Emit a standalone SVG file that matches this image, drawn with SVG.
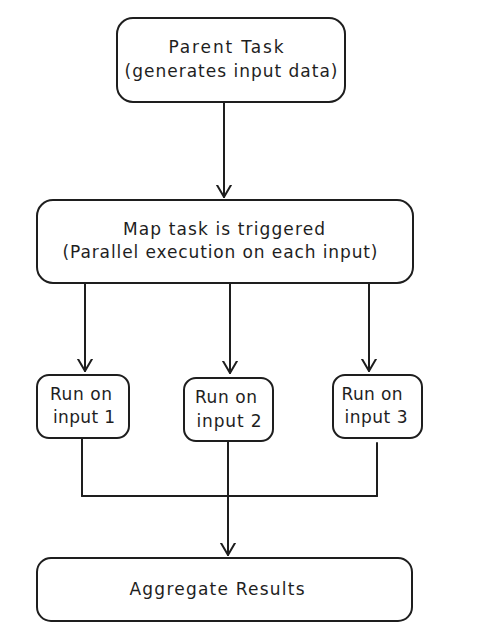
<svg xmlns="http://www.w3.org/2000/svg" width="480" height="643" viewBox="0 0 480 643">
<style>
.box{fill:#ffffff;stroke:#1e1e1e;stroke-width:2;}
.t{font-family:"DejaVu Sans","Liberation Sans",sans-serif;font-size:17px;fill:#1e1e1e;text-anchor:middle;}
.c{fill:none;stroke:#1e1e1e;stroke-width:2;stroke-linecap:round;}
</style>
<defs>
<marker id="arr" markerWidth="24" markerHeight="24" refX="12" refY="12" orient="auto" markerUnits="userSpaceOnUse">
<path d="M0,5 L12,12 L0,19" fill="none" stroke="#1e1e1e" stroke-width="2" stroke-linecap="round" stroke-linejoin="round"/>
</marker>
</defs>
<rect width="480" height="643" fill="#ffffff"/>
<g id="connectors">
<path class="c" d="M224,103 L224,197" marker-end="url(#arr)"/>
<path class="c" d="M85,284 L85,371" marker-end="url(#arr)"/>
<path class="c" d="M230,284 L230,373" marker-end="url(#arr)"/>
<path class="c" d="M369,284 L369,371" marker-end="url(#arr)"/>
<path class="c" d="M82,439 L82,496"/>
<path class="c" d="M377,443 L377,496"/>
<path class="c" d="M82,496 L377,496"/>
<path class="c" d="M228,442 L228,555" marker-end="url(#arr)"/>
</g>
<g id="parent">
<rect class="box" x="117" y="18" width="228" height="84" rx="16"/>
<text class="t" x="226" y="53" textLength="115" lengthAdjust="spacing">Parent Task</text>
<text class="t" x="231" y="77" textLength="213" lengthAdjust="spacing">(generates input data)</text>
</g>
<g id="map">
<rect class="box" x="37" y="200" width="376" height="83" rx="16"/>
<text class="t" x="224" y="235" textLength="202" lengthAdjust="spacing">Map task is triggered</text>
<text class="t" x="220" y="258" textLength="315" lengthAdjust="spacing">(Parallel execution on each input)</text>
</g>
<g id="run1">
<rect class="box" x="37" y="375" width="92" height="63" rx="12"/>
<text class="t" x="81" y="400" textLength="62" lengthAdjust="spacing">Run on</text>
<text class="t" x="84" y="423" textLength="62" lengthAdjust="spacing">input 1</text>
</g>
<g id="run2">
<rect class="box" x="184" y="378" width="89" height="63" rx="12"/>
<text class="t" x="226" y="403" textLength="62" lengthAdjust="spacing">Run on</text>
<text class="t" x="229" y="427" textLength="65" lengthAdjust="spacing">input 2</text>
</g>
<g id="run3">
<rect class="box" x="333" y="375" width="89" height="63" rx="12"/>
<text class="t" x="372" y="400" textLength="61" lengthAdjust="spacing">Run on</text>
<text class="t" x="376" y="423" textLength="63" lengthAdjust="spacing">input 3</text>
</g>
<g id="aggregate">
<rect class="box" x="37" y="558" width="375" height="63" rx="14"/>
<text class="t" x="217" y="595" textLength="175" lengthAdjust="spacing">Aggregate Results</text>
</g>
</svg>
